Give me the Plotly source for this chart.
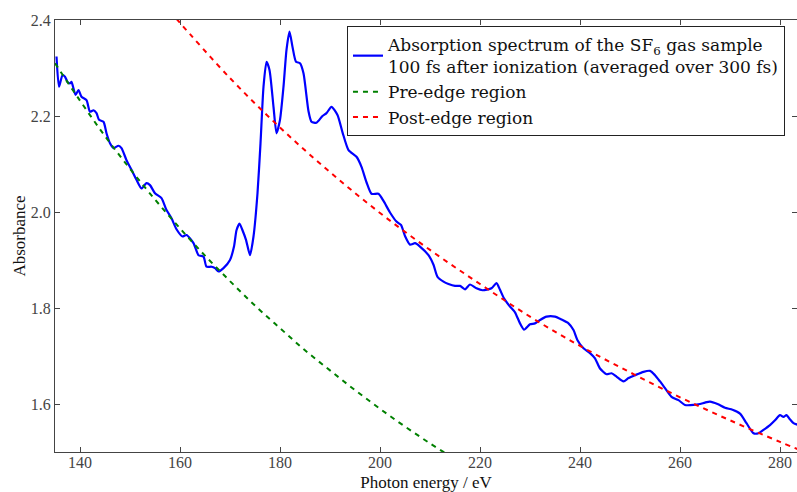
import plotly.graph_objects as go

# Measured spectrum (photon energy in eV, absorbance)
energy = [135.3,135.8,136.5,137.0,137.5,138.0,138.3,139.1,139.7,140.3,
          141.3,142.0,142.7,143.3,143.8,144.7,145.3,146.0,146.7,147.7,
          148.3,149.3,150.3,151.3,152.3,153.3,154.0,155.0,156.3,157.3,
          158.3,159.3,160.5,161.3,162.7,163.7,164.7,165.3,166.3,167.0,
          167.7,168.7,170.0,170.8,171.3,171.9,172.5,173.2,174.0,174.7,
          175.5,176.1,176.7,177.3,177.9,178.7,179.3,180.0,180.7,181.3,
          181.9,182.5,183.2,184.0,184.7,185.7,186.3,187.3,188.5,189.3,
          190.3,191.5,192.5,193.7,195.3,196.3,197.3,198.3,199.7,200.7,
          202.0,203.3,204.2,205.0,206.0,207.0,208.0,209.7,210.7,211.5,
          212.7,213.7,215.0,216.0,217.0,218.0,219.3,220.5,222.3,223.3,
          224.0,224.8,226.0,227.0,228.0,228.8,230.0,231.0,232.0,233.3,
          235.0,236.3,237.7,238.7,239.5,240.7,242.0,243.0,244.0,245.3,
          246.3,247.3,248.7,249.7,251.0,252.7,254.0,255.0,256.0,257.0,
          258.3,259.7,261.0,262.7,264.0,265.0,266.0,267.5,269.0,270.5,
          272.0,273.3,274.7,275.7,276.7,278.0,279.0,280.0,280.7,281.3,
          282.0,282.7,283.5]
absorbance = [2.324,2.261,2.285,2.282,2.271,2.268,2.271,2.244,2.254,2.240,
              2.233,2.209,2.212,2.206,2.192,2.188,2.164,2.143,2.133,2.138,
              2.133,2.108,2.088,2.067,2.049,2.060,2.056,2.039,2.029,2.004,
              1.987,1.964,1.949,1.952,1.935,1.910,1.907,1.886,1.886,1.883,
              1.876,1.883,1.900,1.928,1.962,1.976,1.962,1.942,1.910,1.949,
              2.039,2.143,2.261,2.313,2.296,2.219,2.164,2.192,2.261,2.338,
              2.376,2.344,2.313,2.310,2.289,2.210,2.188,2.186,2.200,2.206,
              2.219,2.202,2.166,2.129,2.115,2.094,2.062,2.038,2.038,2.023,
              1.999,1.980,1.973,1.950,1.932,1.935,1.928,1.910,1.890,1.865,
              1.855,1.850,1.846,1.846,1.839,1.849,1.841,1.837,1.841,1.852,
              1.838,1.820,1.803,1.791,1.768,1.755,1.766,1.768,1.775,1.782,
              1.782,1.776,1.768,1.754,1.733,1.716,1.706,1.695,1.674,1.662,
              1.664,1.657,1.647,1.654,1.660,1.667,1.669,1.660,1.647,1.633,
              1.615,1.608,1.598,1.598,1.600,1.603,1.605,1.600,1.592,1.588,
              1.580,1.560,1.539,1.539,1.546,1.556,1.566,1.577,1.573,1.577,
              1.568,1.560,1.557]

# Pre-edge fit curve
pre_energy = [135, 140, 145, 150, 155, 160, 165, 170, 175, 180, 185, 190, 195, 200, 205, 210, 215]
pre_abs = [2.310, 2.232, 2.158, 2.090, 2.026, 1.966, 1.909, 1.856, 1.805, 1.758,
           1.712, 1.670, 1.629, 1.590, 1.553, 1.518, 1.485]

# Post-edge fit curve
post_energy = [158, 160, 170, 180, 190, 200, 210, 220, 230, 240, 250, 260, 270, 280, 285]
post_abs = [2.418, 2.394, 2.279, 2.176, 2.083, 1.998, 1.921, 1.850, 1.782, 1.721,
            1.666, 1.614, 1.566, 1.521, 1.500]

x_ticks = [140, 160, 180, 200, 220, 240, 260, 280]
y_ticks = [1.6, 1.8, 2.0, 2.2, 2.4]

FONT = "Liberation Serif"
LEGEND_FONT = "DejaVu Serif"

fig = go.Figure()
fig.add_trace(go.Scatter(
    x=energy, y=absorbance, mode="lines",
    line=dict(color="#0000ff", width=2.2, shape="spline", smoothing=0.6),
    name="Absorption spectrum of the SF<sub>6</sub> gas sample<br>100 fs after ionization (averaged over 300 fs)",
))
fig.add_trace(go.Scatter(
    x=pre_energy, y=pre_abs, mode="lines",
    line=dict(color="#008000", width=2, dash="5px,5px", shape="spline"),
    name="Pre-edge region",
))
fig.add_trace(go.Scatter(
    x=post_energy, y=post_abs, mode="lines",
    line=dict(color="#ff0000", width=2, dash="5px,5px", shape="spline"),
    name="Post-edge region",
))

axis_common = dict(
    showgrid=False, zeroline=False,
    showline=True, linecolor="#444", linewidth=1.3,
    mirror="ticks", ticks="inside", ticklen=5, tickcolor="#444",
    tickfont=dict(family=FONT, size=16, color="#444"),
)
fig.update_xaxes(
    range=[135, 283.4], tickvals=x_ticks, ticktext=[str(v) for v in x_ticks],
    ticklabelstandoff=-4,
    title=dict(text="Photon energy / eV", font=dict(family=FONT, size=17, color="#111"), standoff=8),
    **axis_common,
)
fig.update_yaxes(
    range=[1.5, 2.4], tickvals=y_ticks, ticktext=["%.1f" % v for v in y_ticks],
    title=dict(text="Absorbance", font=dict(family=FONT, size=17, color="#111"), standoff=0),
    **axis_common,
)

fig.update_layout(
    width=797, height=492,
    margin=dict(l=55, r=0, t=20, b=40, autoexpand=False),
    plot_bgcolor="white", paper_bgcolor="white",
    font=dict(family=FONT, color="#111"),
    legend=dict(
        x=0.3935, y=0.986, xanchor="left", yanchor="top",
        bgcolor="white", bordercolor="#222", borderwidth=1,
        font=dict(family=LEGEND_FONT, size=17, color="#111"),
        itemwidth=30, tracegroupgap=0,
    ),
    showlegend=True,
)

fig.write_html(
    "out.html",
    config={"displayModeBar": False},
    post_script="document.body.style.margin='0';document.body.style.padding='0';",
)
